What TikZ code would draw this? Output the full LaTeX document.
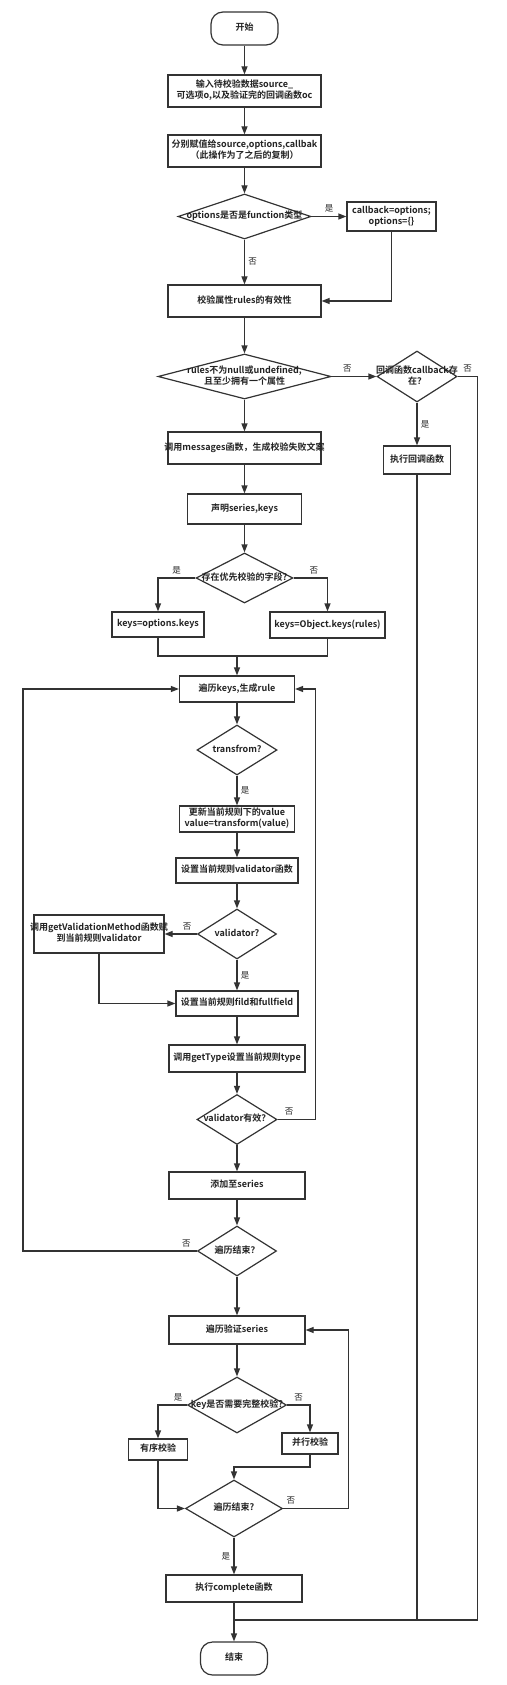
\documentclass[tikz,border=0pt]{standalone}
\usepackage{fontspec}
\setmainfont{Noto Sans CJK SC}[BoldFont={Noto Sans CJK SC Bold}]
\usepackage{tikz}
\usetikzlibrary{shapes.geometric, arrows.meta, positioning}
\definecolor{linegray}{RGB}{51, 51, 51}
\definecolor{textgray}{RGB}{35, 35, 35}
\newcommand{\flowtext}[1]{\makebox[0pt]{\begin{tabular}{@{}c@{}}#1\end{tabular}}}

\begin{document}
\begin{tikzpicture}[
    x=1pt, y=-1pt,
    every node/.style={font=\fontsize{9}{11}\selectfont\bfseries, text=textgray},
    startstop/.style={rectangle, rounded corners=12pt, draw=linegray, line width=1.2pt, inner sep=0pt},
    process/.style={rectangle, draw=linegray, line width=1.2pt, inner sep=0pt},
    decision/.style={diamond, draw=linegray, line width=1.2pt, inner sep=0pt},
    tag/.style={font=\fontsize{8.5}{10}\selectfont},
    line/.style={draw=linegray, line width=1.2pt},
    arrow/.style={line, -{Triangle[length=8pt, width=6pt]}}
]
    \useasboundingbox (0,0) rectangle (506,1685);
    \fill[white] (0,0) rectangle (506,1685);

    % Setup nodes
    \node[startstop, minimum width=67pt, minimum height=33pt] (start) at (244.5,28.5) {\flowtext{开始}};
    \node[process, minimum width=153pt, minimum height=32pt] (input) at (244.5,91) {\flowtext{输入待校验数据source\_\\可选项o,以及验证完的回调函数oc}};
    \node[process, minimum width=153pt, minimum height=32pt] (assign) at (244.5,151) {\flowtext{分别赋值给source,options,callbak\\（此操作为了之后的复制）}};
    \node[decision, minimum width=133pt, minimum height=45pt] (isfunc) at (244.5,216.5) {\flowtext{options是否是function类型}};
    \node[process, minimum width=89pt, minimum height=29pt] (cbopt) at (391.5,216.5) {\flowtext{callback=options;\\options=\{\}}};
    \node[process, minimum width=153pt, minimum height=32pt] (check) at (244.5,301) {\flowtext{校验属性rules的有效性}};
    \node[decision, minimum width=173pt, minimum height=45pt] (rulesok) at (244.5,376.5) {\flowtext{rules不为null或undefined,\\且至少拥有一个属性}};
    \node[decision, minimum width=80pt, minimum height=51pt] (hascb) at (417,376.5) {\flowtext{回调函数callback存\\在？}};
    \node[process, minimum width=67pt, minimum height=28pt] (runcb) at (417,460) {\flowtext{执行回调函数}};
    \node[process, minimum width=153pt, minimum height=32pt] (msg) at (244.5,448) {\flowtext{调用messages函数，生成校验失败文案}};
    \node[process, minimum width=114pt, minimum height=30pt] (decl) at (244.5,509) {\flowtext{声明series,keys}};
    \node[decision, minimum width=97pt, minimum height=50pt] (prior) at (244.5,578) {\flowtext{存在优先校验的字段?}};
    \node[process, minimum width=92pt, minimum height=25pt] (keysopt) at (158,624.5) {\flowtext{keys=options.keys}};
    \node[process, minimum width=115pt, minimum height=26pt] (keysobj) at (327.5,625) {\flowtext{keys=Object.keys(rules)}};
    \coordinate (keysjoin) at (237,656);

    % Rule loop
    \node[process, minimum width=115pt, minimum height=26pt] (loop) at (237,689) {\flowtext{遍历keys,生成rule}};
    \node[decision, minimum width=80pt, minimum height=50pt] (transf) at (237,750) {\flowtext{transfrom?}};
    \node[process, minimum width=115pt, minimum height=26pt] (update) at (237,819) {\flowtext{更新当前规则下的value\\value=transform(value)}};
    \node[process, minimum width=122pt, minimum height=25pt] (setval) at (237,870.5) {\flowtext{设置当前规则validator函数}};
    \node[decision, minimum width=79pt, minimum height=50pt] (isval) at (237,934) {\flowtext{validator?}};
    \node[process, minimum width=130pt, minimum height=38pt] (getvm) at (99,934) {\flowtext{调用getValidationMethod函数赋\\到当前规则validator}};
    \node[process, minimum width=122pt, minimum height=25pt] (setfield) at (237,1003.5) {\flowtext{设置当前规则fild和fullfield}};
    \node[process, minimum width=136pt, minimum height=27pt] (gettype) at (237,1058.5) {\flowtext{调用getType设置当前规则type}};
    \node[decision, minimum width=80pt, minimum height=50pt] (valid) at (237,1119.5) {\flowtext{validator有效？}};
    \node[process, minimum width=136pt, minimum height=27pt] (addser) at (237,1185.5) {\flowtext{添加至series}};
    \node[decision, minimum width=79pt, minimum height=50pt] (loopend) at (237,1251) {\flowtext{遍历结束？}};

    % Series loop
    \node[process, minimum width=136pt, minimum height=28pt] (travser) at (237,1330) {\flowtext{遍历验证series}};
    \node[decision, minimum width=99pt, minimum height=56pt] (full) at (237,1405) {\flowtext{key是否需要完整校验?}};
    \node[process, minimum width=59pt, minimum height=21pt] (seqchk) at (158,1449.5) {\flowtext{有序校验}};
    \node[process, minimum width=56pt, minimum height=21pt] (parchk) at (310,1443.5) {\flowtext{并行校验}};
    \coordinate (parjoin) at (234,1467);
    \node[decision, minimum width=97pt, minimum height=57pt] (travend) at (234,1508.5) {\flowtext{遍历结束?}};
    \node[process, minimum width=136pt, minimum height=27pt] (complete) at (234,1588.5) {\flowtext{执行complete函数}};
    \coordinate (endjoin) at (234,1620);
    \node[startstop, minimum width=67pt, minimum height=33pt] (end) at (234,1658.5) {\flowtext{结束}};

    % Arrows
    \draw[arrow] (start) -- (input);
    \draw[arrow] (input) -- (assign);
    \draw[arrow] (assign) -- (isfunc);
    \draw[arrow] (isfunc) -- node[tag, midway, above] {是} (cbopt);
    \draw[arrow] (isfunc) -- node[tag, midway, right] {否} (check);
    \draw[arrow] (cbopt) |- (check);
    \draw[arrow] (check) -- (rulesok);
    \draw[arrow] (rulesok) -- node[tag, pos=0.35, above] {否} (hascb);
    \draw[arrow] (hascb) -- node[tag, midway, right] {是} (runcb);
    \draw[line] (hascb.east) -- node[tag, midway, above] {否} ++(20,0) |- (endjoin);
    \draw[line] (runcb) |- (endjoin);
    \draw[arrow] (rulesok) -- (msg);
    \draw[arrow] (msg) -- (decl);
    \draw[arrow] (decl) -- (prior);
    \draw[arrow] (prior.west) -| node[tag, pos=0.25, above] {是} (keysopt.north);
    \draw[arrow] (prior.east) -| node[tag, pos=0.3, above] {否} (keysobj.north);
    \draw[line] (keysopt) |- (keysjoin) -| (keysobj);
    \draw[arrow] (keysjoin) -- (loop);

    \draw[arrow] (loop) -- (transf);
    \draw[arrow] (transf) -- node[tag, midway, right] {是} (update);
    \draw[arrow] (update) -- (setval);
    \draw[arrow] (setval) -- (isval);
    \draw[arrow] (isval) -- node[tag, pos=0.3, above] {否} (getvm);
    \draw[arrow] (isval) -- node[tag, midway, right] {是} (setfield);
    \draw[arrow] (getvm) |- (setfield);
    \draw[arrow] (setfield) -- (gettype);
    \draw[arrow] (gettype) -- (valid);
    \draw[arrow] (valid.east) -- node[tag, pos=0.3, above] {否} ++(38,0) |- (loop.east);
    \draw[arrow] (valid) -- (addser);
    \draw[arrow] (addser) -- (loopend);
    \draw[arrow] (loopend.west) -- node[tag, pos=0.06, above] {否} ++(-174,0) |- (loop.west);
    \draw[arrow] (loopend) -- (travser);

    \draw[arrow] (travser) -- (full);
    \draw[arrow] (full.west) -| node[tag, pos=0.15, above] {是} (seqchk.north);
    \draw[arrow] (full.east) -| node[tag, pos=0.25, above] {否} (parchk.north);
    \draw[arrow] (parchk) |- (parjoin) -- (travend);
    \draw[arrow] (seqchk) |- (travend);
    \draw[arrow] (travend.east) -- node[tag, pos=0.12, above] {否} ++(65.5,0) |- (travser.east);
    \draw[arrow] (travend) -- node[tag, midway, left] {是} (complete);
    \draw[arrow] (complete) -- (end);

\end{tikzpicture}
\end{document}
